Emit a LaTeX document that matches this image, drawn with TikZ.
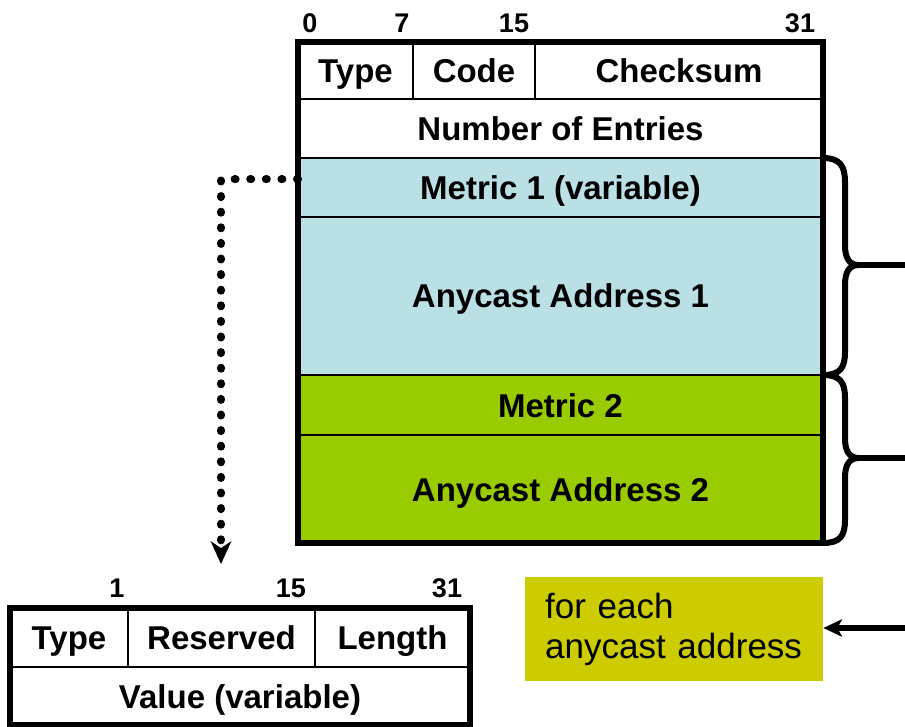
\documentclass[tikz,border=0pt]{standalone}
\usepackage{fontspec}
\setmainfont{Liberation Sans}
\usetikzlibrary{arrows.meta}
\definecolor{metricblue}{HTML}{BADFE4}
\definecolor{entrygreen}{HTML}{99CC00}
\definecolor{noteyellow}{HTML}{CCCC00}
\tikzset{
  field/.style={draw=black, line width=2.5pt, inner sep=0pt, outer sep=0pt,
    font=\fontsize{33}{36}\selectfont\bfseries, text height=24pt, text depth=0pt,
    anchor=north west},
  bitnum/.style={font=\fontsize{27}{29}\selectfont\bfseries, anchor=base, inner sep=0pt},
  frame/.style={draw=black, line width=6pt},
  bracepath/.style={draw=black, line width=6pt, line cap=round, line join=round},
  pointer/.style={line width=8pt, line cap=round, dash pattern=on 1pt off 14.6pt,
    -{Stealth[length=23pt, width=21pt, inset=7pt, line width=0pt]}},
  notebox/.style={fill=noteyellow, anchor=north west, inner xsep=20pt, inner ysep=0pt,
    text width=258pt, minimum height=104pt, align=left,
    font=\fontsize{35}{40}\selectfont},
  feed/.style={line width=6pt, -{Stealth[length=19pt, width=18pt, inset=5pt, line width=0pt]}},
}
\begin{document}
\begin{tikzpicture}[x=1pt, y=-1pt]
\useasboundingbox (0,0) rectangle (905,727);

% ICMP header and entries
\node[field, minimum width=115pt, minimum height=57pt] (ty) at (298,42) {Type};
\node[field, minimum width=122pt, minimum height=57pt] (co) at (413,42) {Code};
\node[field, minimum width=288pt, minimum height=57pt] (ck) at (535,42) {Checksum};
\node[field, minimum width=525pt, minimum height=59pt] (ne) at (298,99) {Number of Entries};
\node[field, fill=metricblue, minimum width=525pt, minimum height=59pt] (m1) at (298,158) {Metric 1 (variable)};
\node[field, fill=metricblue, minimum width=525pt, minimum height=158pt] (a1) at (298,217) {Anycast Address 1};
\node[field, fill=entrygreen, minimum width=525pt, minimum height=60pt] (m2) at (298,375) {Metric 2};
\node[field, fill=entrygreen, minimum width=525pt, minimum height=108pt] (a2) at (298,435) {Anycast Address 2};
\draw[frame] (ty.north west) rectangle (a2.south east);

% bit positions
\node[bitnum] (b0) at (310,33) {0};
\node[bitnum] (b7) at (402,33) {7};
\node[bitnum] (b15) at (514,33) {15};
\node[bitnum] (b31) at (800,33) {31};

% metric option layout
\node[field, minimum width=118pt, minimum height=59pt] (vt) at (10,608) {Type};
\node[field, minimum width=187pt, minimum height=59pt] (vr) at (128,608) {Reserved};
\node[field, minimum width=155pt, minimum height=59pt] (vl) at (315,608) {Length};
\node[field, minimum width=460pt, minimum height=58pt] (vv) at (10,667) {Value (variable)};
\draw[frame] (vt.north west) rectangle (vv.south east);

\node[bitnum] (c1) at (117,597) {1};
\node[bitnum] (c15) at (291,597) {15};
\node[bitnum] (c31) at (447,597) {31};

% dotted pointer from metric 1 to the option layout
\coordinate (ptrend) at (221,564);
\draw[pointer] ([yshift=8pt]m1.west) -| (ptrend);

% braces grouping each entry
\coordinate (tipA) at (859,265);
\coordinate (tipB) at (859,458);
\coordinate (outA) at (905,265);
\coordinate (outB) at (905,458);
\draw[bracepath] (m1.north east) .. controls (840,158) and (845,166) .. (845,182) -- (845,245)
  .. controls (845,258) and (849,265) .. (tipA)
  .. controls (849,265) and (845,272) .. (845,285) -- (845,352)
  .. controls (845,368) and (840,375) .. (a1.south east);
\draw[bracepath] (m2.north east) .. controls (840,375) and (845,382) .. (845,398) -- (845,438)
  .. controls (845,451) and (849,458) .. (tipB)
  .. controls (849,458) and (845,465) .. (845,478) -- (845,520)
  .. controls (845,536) and (840,543) .. (a2.south east);
\draw[bracepath] (tipA) -- (outA);
\draw[bracepath] (tipB) -- (outB);

% note
\node[notebox] (note) at (525,577) {for each\\anycast address};
\coordinate (inC) at (905,628);
\draw[feed] (inC) -- (inC -| note.east);
\end{tikzpicture}
\end{document}
